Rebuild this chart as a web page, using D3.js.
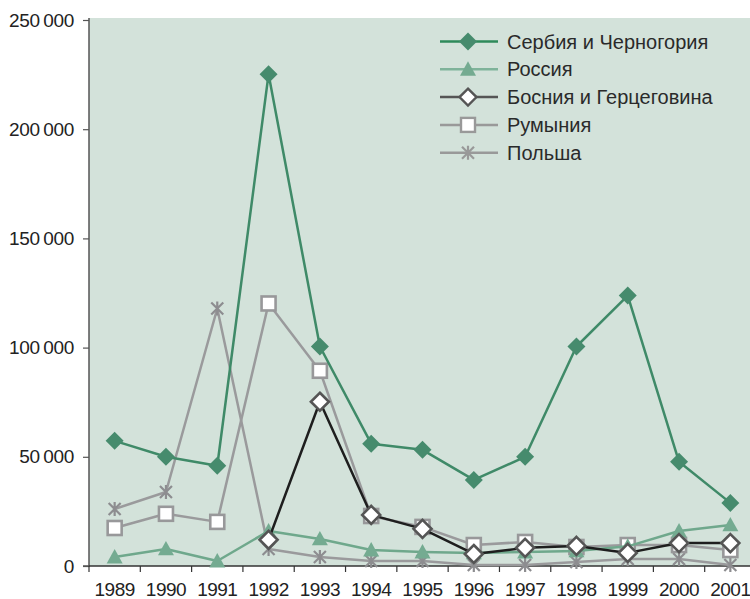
<!DOCTYPE html>
<html><head><meta charset="utf-8">
<script src="https://cdn.jsdelivr.net/npm/d3@7"></script>
<style>body{margin:0;background:#fff}svg{display:block}</style>
</head><body>
<svg id="c" width="750" height="599"></svg>
<script>
const years = ["1989","1990","1991","1992","1993","1994","1995","1996","1997","1998","1999","2000","2001"];
const yTicks = [0,50000,100000,150000,200000,250000];
const serbia  = [57300,50000,45900,225200,100500,56000,53200,39400,50000,100500,123800,47700,28900];
const russia  = [4100,7800,2300,16000,12400,7300,6400,6000,6400,6900,9000,16000,18800];
const bosnia  = [null,null,null,12000,75200,23400,17000,5500,8300,9200,6000,10500,10500];
const romania = [17400,23900,20200,120200,89400,22900,17900,9600,11000,8700,9600,9600,7300];
const poland  = [26100,33900,117900,7800,4100,2300,2300,500,500,1800,3200,3200,500];
const names = ["Сербия и Черногория","Россия","Босния и Герцеговина","Румыния","Польша"];

const svg = d3.select("#c");
const L = 89, R = 756, T = 20, B = 566;
const x = d3.scaleBand().domain(years).range([L, R]).padding(0);
const y = d3.scaleLinear().domain([0,250000]).range([B, T]);
const FONT = "'Liberation Sans',Arial,sans-serif";

svg.append("rect").attr("x", L).attr("y", T-2).attr("width", 750-L).attr("height", B-T+2).attr("fill", "#d3e2da");

// y axis
const ya = svg.append("g").attr("transform", `translate(${L},0)`)
  .call(d3.axisLeft(y).tickValues(yTicks).tickSize(6).tickFormat(d => d3.format(",")(d).replace(/,/g, "\u2009")));
ya.select(".domain").attr("stroke", "#555").attr("stroke-width", 1.5).attr("d", `M-6,${y(0)}H0V${T-2}`);
ya.selectAll(".tick line").attr("stroke", "#555").attr("stroke-width", 1.2);
ya.selectAll("text").attr("font-family", FONT)
  .attr("font-size", 19).attr("fill", "#222").attr("x", -15).attr("letter-spacing", -0.3);

// x axis
const xa = svg.append("g").attr("transform", `translate(0,${B})`)
  .call(d3.axisBottom(x).tickSize(0).tickPadding(17));
xa.select(".domain").attr("stroke", "#333").attr("stroke-width", 1.5).attr("d", `M${L},0H750`);
xa.selectAll("text").attr("font-family", FONT)
  .attr("font-size", 19).attr("fill", "#222").attr("letter-spacing", -0.5);
years.forEach(yr => {
  svg.append("line").attr("x1", x(yr)).attr("x2", x(yr)).attr("y1", B).attr("y2", B+6)
    .attr("stroke", "#333").attr("stroke-width", 1.2);
});

const cx = (i) => x(years[i]) + x.bandwidth()/2;
const line = d3.line().defined(d => d != null).x((d,i) => cx(i)).y(d => y(d));

function drawMarker(g, type, px, py, st) {
  const s = st.size;
  if (type === "diamond") {
    g.append("path").attr("d", `M${px},${py-s}L${px+s},${py}L${px},${py+s}L${px-s},${py}Z`)
      .attr("fill", st.fill).attr("stroke", st.stroke).attr("stroke-width", st.sw);
  } else if (type === "triangle") {
    g.append("path").attr("d", `M${px},${py-s}L${px+s},${py+s*0.8}L${px-s},${py+s*0.8}Z`)
      .attr("fill", st.fill);
  } else if (type === "square") {
    g.append("rect").attr("x", px-s).attr("y", py-s).attr("width", 2*s).attr("height", 2*s)
      .attr("fill", st.fill).attr("stroke", st.stroke).attr("stroke-width", st.sw);
  } else if (type === "star") {
    const p = `M${px-s},${py-s}L${px+s},${py+s}M${px+s},${py-s}L${px-s},${py+s}M${px},${py-s-1}L${px},${py+s+1}`;
    g.append("path").attr("d", p).attr("stroke", st.stroke).attr("stroke-width", st.sw).attr("fill", "none");
  }
}

const series = [
  {data: poland, line: "#9a9a9c", lw: 2.5, m: "star", st: {size: 6, stroke: "#8d8d90", sw: 2.2}},
  {data: romania, line: "#9a9a9c", lw: 2.5, m: "square", st: {size: 7, fill: "#fff", stroke: "#98989a", sw: 2.6}},
  {data: russia, line: "#6fa88c", lw: 2.5, m: "triangle", st: {size: 8, fill: "#74ab91"}},
  {data: bosnia, line: "#1e1e1e", lw: 2.5, m: "diamond", st: {size: 9, fill: "#fff", stroke: "#555", sw: 2.6}},
  {data: serbia, line: "#3f8a68", lw: 2.5, m: "diamond", st: {size: 9, fill: "#468b6d", stroke: "none", sw: 0}}
];

series.forEach(s => {
  const g = svg.append("g");
  g.append("path").datum(s.data).attr("d", line).attr("fill", "none")
    .attr("stroke", s.line).attr("stroke-width", s.lw).attr("stroke-linejoin", "round");
  s.data.forEach((v,i) => { if (v != null) drawMarker(g, s.m, cx(i), y(v), s.st); });
});

// legend
const legOrder = [
  {name: names[0], line: "#2e8a5a", m: "diamond", st: {size: 9, fill: "#468b6d", stroke: "none", sw: 0}},
  {name: names[1], line: "#7fb39a", m: "triangle", st: {size: 8, fill: "#74ab91"}},
  {name: names[2], line: "#555", m: "diamond", st: {size: 8.5, fill: "#fff", stroke: "#555", sw: 2.4}},
  {name: names[3], line: "#999", m: "square", st: {size: 7, fill: "#fff", stroke: "#999", sw: 2.4}},
  {name: names[4], line: "#999", m: "star", st: {size: 6, stroke: "#999", sw: 2.2}}
];
const lg = svg.append("g");
legOrder.forEach((d,i) => {
  const yy = 41.5 + i*27.8;
  lg.append("line").attr("x1", 440).attr("x2", 498).attr("y1", yy).attr("y2", yy)
    .attr("stroke", d.line).attr("stroke-width", 2.5);
  drawMarker(lg, d.m, 468, yy, d.st);
  lg.append("text").attr("x", 507).attr("y", yy).attr("dy", "0.35em")
    .attr("font-family", FONT).attr("font-size", 20)
    .attr("fill", "#2a2a2a").text(d.name);
});
</script>
</body></html>
